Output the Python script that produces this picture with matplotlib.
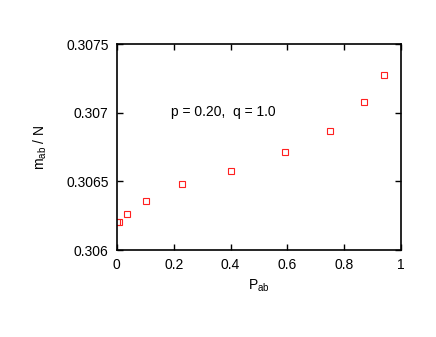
import matplotlib

matplotlib.use("Agg")
import matplotlib.pyplot as plt
from matplotlib.ticker import FuncFormatter

# data
p_ab = [0.001, 0.007, 0.034, 0.103, 0.228, 0.402, 0.592, 0.751, 0.870, 0.939]
m_ab = [0.306206, 0.306206, 0.306264, 0.306359, 0.306483, 0.306573,
        0.306716, 0.306867, 0.307078, 0.307274]

x_ticks = [0, 0.2, 0.4, 0.6, 0.8, 1]
y_ticks = [0.306, 0.3065, 0.307, 0.3075]

plt.rcParams["font.family"] = ["Liberation Sans", "DejaVu Sans"]
plt.rcParams["mathtext.fontset"] = "custom"
plt.rcParams["mathtext.rm"] = "Liberation Sans"
plt.rcParams["mathtext.it"] = "Liberation Sans"

fig = plt.figure(figsize=(4.36, 3.37), dpi=100)
ax = fig.add_axes([0.268, 0.258, 0.652, 0.611])

ax.plot(p_ab, m_ab, linestyle="none", marker="s", markersize=5,
        markerfacecolor="none", markeredgecolor="#ff2020", markeredgewidth=0.8)

ax.text(0.373, 0.307005, "p = 0.20,  q = 1.0", ha="center", va="center", fontsize=10)

ax.set_xlim(0, 1)
ax.set_ylim(0.306, 0.3075)
ax.set_xticks(x_ticks)
ax.set_yticks(y_ticks)
ax.xaxis.set_major_formatter(FuncFormatter(lambda v, _: f"{v:g}"))
ax.yaxis.set_major_formatter(FuncFormatter(lambda v, _: f"{v:g}"))
ax.tick_params(direction="in", top=True, right=True, length=4, width=1,
               labelsize=10, pad=6)
for s in ax.spines.values():
    s.set_linewidth(1.2)

ax.set_xlabel(r"P$_{\mathrm{ab}}$", fontsize=10, labelpad=4)
ax.set_ylabel(r"m$_{\mathrm{ab}}$ / N", fontsize=10, labelpad=12)

fig.savefig("out.png", dpi=100)
